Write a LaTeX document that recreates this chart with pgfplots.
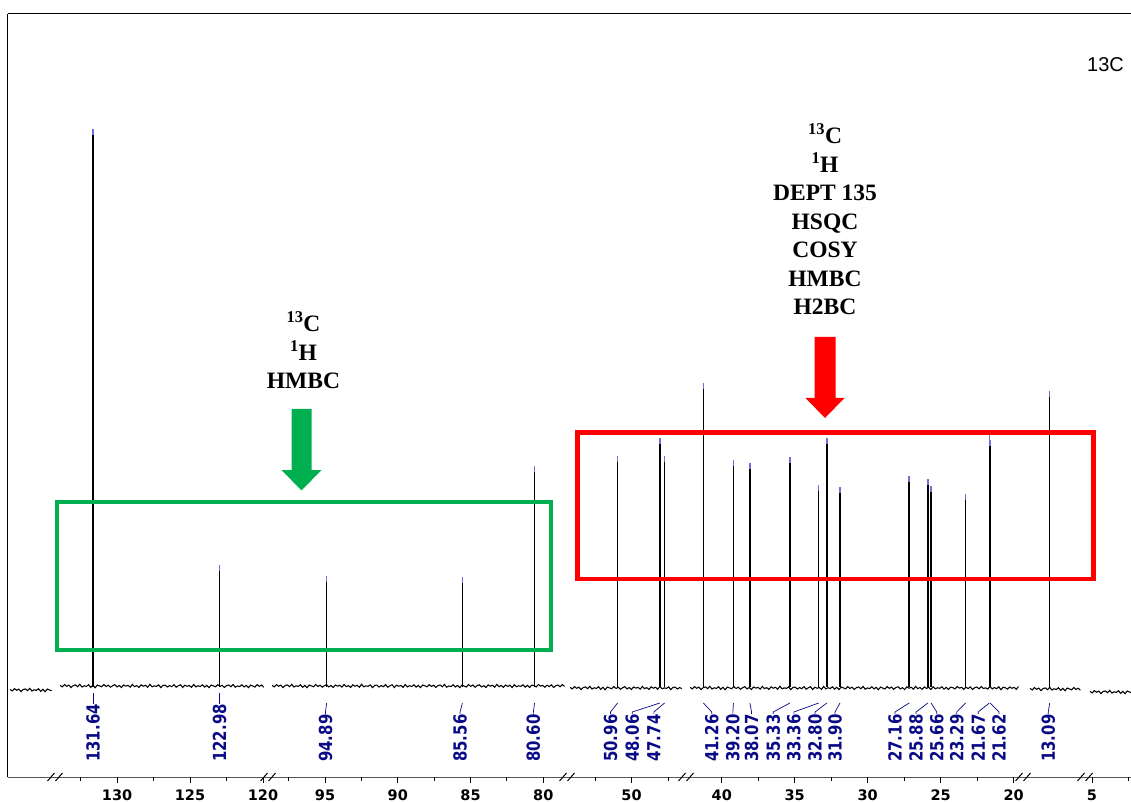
\documentclass[border=0pt]{standalone}
\usepackage{pgfplots}
\pgfplotsset{compat=1.18}
\usepackage{pgfplotstable}
\usepackage{fontspec}
\setmainfont{Liberation Serif}
\newfontfamily\dejavu{DejaVu Sans}
\newfontfamily\arial{Liberation Sans}
\definecolor{pkblue}{RGB}{10,10,135}
\definecolor{tipblue}{RGB}{110,110,220}
\definecolor{boxgreen}{RGB}{0,176,80}
\definecolor{boxred}{RGB}{255,0,0}

% baseline noise (intensity units = pixels)
\pgfplotstableread{
n
0.8
-1.2
1.9
-0.4
1.2
-2.1
0.6
1.5
-0.9
2.2
-1.4
0.3
-0.6
1.7
-1.8
0.9
-2.3
1.3
0.1
-1.0
2.0
-0.7
1.1
-1.6
0.4
1.8
-1.3
0.7
-2.0
1.4
-0.2
0.9
-1.5
2.1
-0.8
0.5
-1.9
1.6
-0.3
1.0
-1.7
2.3
-1.1
0.2
-0.5
1.5
-2.2
0.8
1.2
-1.4
0.6
-0.9
1.9
-1.6
0.3
1.7
-2.0
1.1
-0.4
0.7
-1.8
2.0
-1.2
0.4
-0.7
1.6
-1.5
0.9
-2.1
1.3
0.2
-1.1
1.8
-0.6
1.0
-1.9
0.5
1.4
-1.0
2.1
-1.6
0.1
-0.8
1.7
-1.3
0.8
-2.2
1.2
-0.1
-1.4
1.9
-0.5
1.3
-1.7
0.6
1.6
-1.2
0.4
-2.0
1.5
-0.3
1.0
-1.6
2.2
-0.9
0.7
-1.8
1.4
-0.6
1.1
-2.1
1.8
-1.0
0.3
-0.4
1.6
-1.5
0.9
-1.9
1.2
0.5
-1.3
2.0
-0.2
0.9
-1.7
1.1
-0.8
1.5
-2.0
0.4
1.3
-1.1
1.9
-0.6
0.2
-1.4
2.1
-1.2
0.6
-0.9
1.7
-2.3
1.0
0.3
-1.5
1.4
-0.4
0.8
-1.8
2.0
-1.0
0.5
-0.7
1.6
-1.9
1.2
0.1
-1.3
0.9
}\noise

% peaks: chemical shift (ppm), height
\pgfplotstableread{
p h
131.64 555
122.98 119
}\pkB
\pgfplotstableread{
p h
94.89 108
85.56 107
80.60 218
}\pkC
\pgfplotstableread{
p h
50.96 228
48.06 246
47.74 228
}\pkD
\pgfplotstableread{
p h
41.26 301
39.20 224
38.07 221
35.33 227
33.36 199
32.80 246
31.90 197
27.16 208
25.88 205
25.66 198
23.29 190
21.67 249
21.62 244
}\pkE
\pgfplotstableread{
p h
13.09 293
}\pkF

\pgfplotsset{
  seg/.style={
    scale only axis, height=763pt, x dir=reverse,
    ymin=-90, ymax=673, ytick=\empty,
    hide y axis, clip=false,
    tick pos=left, tick align=outside,
    major tick length=6pt, minor tick length=3.5pt,
    every tick/.style={black, line width=1pt},
    axis line style={black, line width=1pt},
    xticklabel style={font=\dejavu\bfseries\fontsize{14.5}{17}\selectfont, text=black, yshift=-3pt},
    /pgf/number format/assume math mode=true,
    anchor=south west,
  },
  spec/.style={black, line width=1.05pt, no markers},
  comb/.style={ycomb, black, line width=1.4pt, mark=|, mark size=3pt,
    mark options={tipblue, line width=1.4pt}},
}
\tikzset{
  pklab/.style={font=\dejavu\bfseries\fontsize{18}{20}\selectfont, text=pkblue,
    rotate=90, anchor=west, inner sep=0pt},
  lead/.style={pkblue, line width=0.7pt},
}
\newcommand\labS[1]{\draw[lead] (axis cs:#1,-6) -- (axis cs:#1,-17);
  \node[pklab] at (axis cs:#1,-75) {\scalebox{0.83}[1]{#1}};}
\newcommand\labF[2]{\draw[lead] (axis cs:#1,-16) -- (axis cs:#2,-25) -- (axis cs:#2,-27);
  \node[pklab] at (axis cs:#2,-75) {\scalebox{0.83}[1]{#1}};}
\newcommand\noiseplot[4]{% start ppm, end ppm, offset
  \addplot[spec] table[x index=0, y index=0, x expr={#1-0.15*\coordindex},
    y expr={0.75*\thisrowno{0}+(#3)}, restrict x to domain=#2:#1] {\noise};}

\begin{document}
\begin{tikzpicture}
\useasboundingbox (0,0) rectangle (1131pt,801pt);
\clip (0,0) rectangle (1131pt,801pt);

% segment A
\begin{axis}[seg, at={(8pt,24pt)}, width=47pt, xmin=135.44, xmax=138.66,
  xtick=\empty, minor xtick={137.5}]
\noiseplot{138.52}{135.6}{-3}{}
\draw[black, line width=1pt] (axis description cs:0,0) -- (axis description cs:0,1);
\end{axis}

% segment B
\begin{axis}[seg, at={(55pt,24pt)}, width=213pt, xmin=119.66, xmax=134.25,
  xtick={120,125,130}, minor xtick={122.5,127.5,132.5}]
\noiseplot{133.9}{119.93}{1}{}
\addplot[comb] table[x=p, y=h] {\pkB};
\labS{131.64}
\labS{122.98}
\end{axis}

% segment C
\begin{axis}[seg, at={(268pt,24pt)}, width=299pt, xmin=78.37, xmax=98.92,
  xtick={80,85,90,95}, minor xtick={82.5,87.5,92.5,97.5}]
\noiseplot{98.64}{78.5}{1}{}
\addplot[comb] table[x=p, y=h] {\pkC};
\labF{94.89}{94.97}
\labF{85.56}{85.72}
\labF{80.60}{80.68}
\end{axis}

% segment D
\begin{axis}[seg, at={(567pt,24pt)}, width=119pt, xmin=46.27, xmax=54.42,
  xtick={50}, minor xtick={47.5,52.5}]
\noiseplot{54.21}{46.54}{-1}{}
\addplot[comb] table[x=p, y=h] {\pkD};
\labF{50.96}{51.44}
\labF{48.06}{49.95}
\labF{47.74}{48.47}
\end{axis}

% segment E
\begin{axis}[seg, at={(686pt,24pt)}, width=337pt, xmin=19.36, xmax=42.45,
  xtick={20,25,30,35,40}, minor xtick={22.5,27.5,32.5,37.5}]
\noiseplot{42.17}{19.57}{-1}{}
\addplot[comb] table[x=p, y=h] {\pkE};
\labF{41.26}{40.68}
\labF{39.20}{39.24}
\labF{38.07}{37.96}
\labF{35.33}{36.47}
\labF{33.36}{35.06}
\labF{32.80}{33.61}
\labF{31.90}{32.24}
\labF{27.16}{28.13}
\labF{25.88}{26.69}
\labF{25.66}{25.27}
\labF{23.29}{23.90}
\labF{21.67}{22.43}
\labF{21.62}{21.00}
\end{axis}

% segment F
\begin{axis}[seg, at={(1023pt,24pt)}, width=62pt, xmin=10.67, xmax=14.92,
  xtick=\empty, minor xtick={12.5}]
\noiseplot{14.44}{10.88}{-2}{}
\addplot[comb] table[x=p, y=h] {\pkF};
\labF{13.09}{13.19}
\end{axis}

% segment G
\begin{axis}[seg, at={(1085pt,24pt)}, width=60pt, xmin=1.37, xmax=5.48,
  xtick={5}, minor xtick={2.5}]
\noiseplot{5.14}{1.5}{-5}{}
\end{axis}

% annotations in pixel coordinates
\begin{scope}[x=1pt, y=-1pt, yshift=801pt]
  \foreach \b in {55,268,567,686,1023,1085}{
    \draw[black, line width=1pt] ({\b-7.5},781) -- ({\b-0.5},773)
      ({\b+0.5},781) -- ({\b+7.5},773);
  }
  \draw[boxgreen, line width=4.5pt] (57,502) rectangle (551,650);
  \draw[boxred, line width=4.5pt] (577.5,432.5) rectangle (1093.5,579);
  \fill[boxgreen] (291.5,409) -- (311.5,409) -- (311.5,470) -- (321.5,470)
    -- (301.5,490.5) -- (281.5,470) -- (291.5,470) -- cycle;
  \fill[boxred] (814.5,337) -- (835.5,337) -- (835.5,398) -- (844.5,398)
    -- (825,418) -- (805.5,398) -- (814.5,398) -- cycle;
  \begin{scope}[every node/.style={anchor=base, inner sep=0pt,
      font=\bfseries\fontsize{23.5}{28}\selectfont}]
    \node at (303.5,332) {\textsuperscript{13}C};
    \node at (303.5,360.5) {\textsuperscript{1}H};
    \node at (303.5,389) {HMBC};
    \node at (825,144) {\textsuperscript{13}C};
    \node at (825,172.5) {\textsuperscript{1}H};
    \node at (825,201) {DEPT 135};
    \node at (825,229.5) {HSQC};
    \node at (825,258) {COSY};
    \node at (825,286.5) {HMBC};
    \node at (825,315) {H2BC};
  \end{scope}
  \node[anchor=base, inner sep=0pt, font=\arial\fontsize{20}{24}\selectfont]
    at (1105.5,72) {13C};
\end{scope}
\end{tikzpicture}
\end{document}
